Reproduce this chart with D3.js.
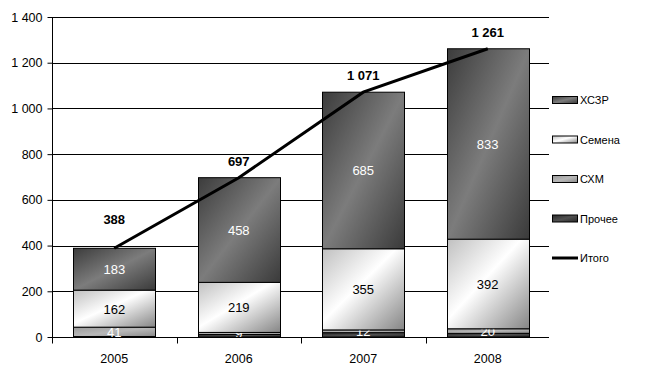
<!DOCTYPE html>
<html><head><meta charset="utf-8">
<script src="https://cdn.jsdelivr.net/npm/d3@7"></script>
<style>body{margin:0;background:#fff}svg{display:block;font-family:"Liberation Sans",Arial,sans-serif}</style>
</head><body><svg id="c" width="663" height="376"></svg>
<script>
const years = ["2005","2006","2007","2008"];
const prochee = [2, 11, 19, 16];
const skhm = [41, 9, 12, 20];
const semena = [162, 219, 355, 392];
const khszr = [183, 458, 685, 833];
const totals = [388, 697, 1071, 1261];
const yTicks = [0,200,400,600,800,1000,1200,1400];
const seriesNames = ["Прочее","СХМ","Семена","ХСЗР"];
const legendNames = ["ХСЗР","Семена","СХМ","Прочее","Итого"];

const svg = d3.select("#c");
const m = {l:52, r:113, t:17, b:39};
const W = 663, H = 376;
const x = d3.scaleBand().domain(years).range([m.l, W-m.r]).paddingInner(0.339).paddingOuter(0.17);
const xc = d3.scaleBand().domain(years).range([m.l, W-m.r]);
const y = d3.scaleLinear().domain([0,1400]).range([H-m.b, m.t]);

const defs = svg.append("defs");
function grad(id, stops){
  const g = defs.append("linearGradient").attr("id",id).attr("x1","0").attr("y1","0").attr("x2","1").attr("y2","1");
  stops.forEach(s=>g.append("stop").attr("offset",s[0]).attr("stop-color",s[1]));
}
grad("gKh", [[0,"#3c3c3c"],[0.5,"#7c7c7c"],[1,"#3a3a3a"]]);
grad("gSe", [[0,"#c0c0c0"],[0.45,"#ffffff"],[1,"#858585"]]);
grad("gSk", [[0,"#9a9a9a"],[0.5,"#b8b8b8"],[1,"#8a8a8a"]]);
grad("gPr", [[0,"#2a2a2a"],[0.5,"#505050"],[1,"#2a2a2a"]]);
const fills = {"Прочее":"url(#gPr)","СХМ":"url(#gSk)","Семена":"url(#gSe)","ХСЗР":"url(#gKh)"};
const labelCol = {"Прочее":null,"СХМ":"#fff","Семена":"#000","ХСЗР":"#fff"};

// gridlines
svg.append("g").selectAll("line").data(yTicks.filter(d=>d>0)).join("line")
  .attr("x1",m.l).attr("x2",W-m.r-1).attr("y1",d=>Math.round(y(d))+0.5).attr("y2",d=>Math.round(y(d))+0.5)
  .attr("stroke","#000").attr("stroke-width",1);

// y axis
const yAx = svg.append("g").attr("transform",`translate(${m.l+0.5},0)`)
  .call(d3.axisLeft(y).tickValues(yTicks).tickSize(5).tickPadding(5)
    .tickFormat(d=>d3.format(",")(d).replace(/,/g," ")));
yAx.select(".domain").attr("d",`M0,${y(1400)}V${y(0)}`);
yAx.selectAll("text").attr("font-size",12.5).attr("fill","#000").attr("font-family","Liberation Sans, Arial");

// stacked data
const rows = years.map((yr,i)=>({year:yr,"Прочее":prochee[i],"СХМ":skhm[i],"Семена":semena[i],"ХСЗР":khszr[i]}));
const stack = d3.stack().keys(seriesNames)(rows);
const gBars = svg.append("g");
stack.forEach(layer=>{
  const key = layer.key;
  gBars.append("g").selectAll("rect").data(layer).join("rect")
    .attr("x",d=>Math.round(x(d.data.year))+0.5).attr("width",Math.round(x.bandwidth()))
    .attr("y",d=>y(d[1])).attr("height",d=>y(d[0])-y(d[1]))
    .attr("fill",fills[key]).attr("stroke","#000").attr("stroke-width",1);
  if(labelCol[key]){
    gBars.append("g").selectAll("text").data(layer).join("text")
      .attr("x",d=>x(d.data.year)+x.bandwidth()/2)
      .attr("y",d=>(y(d[0])+y(d[1]))/2+5)
      .attr("text-anchor","middle").attr("font-size",13).attr("fill",labelCol[key])
      .text(d=>d[1]-d[0]);
  }
});

// x axis
const xAx = svg.append("g").attr("transform",`translate(0,${y(0)+0.5})`);
xAx.append("line").attr("x1",m.l).attr("x2",W-m.r-1).attr("stroke","#000");
xAx.selectAll(".tk").data(d3.range(0,years.length)).join("line")
  .attr("x1",i=>Math.round(m.l+i*xc.bandwidth())+0.5).attr("x2",i=>Math.round(m.l+i*xc.bandwidth())+0.5)
  .attr("y1",0).attr("y2",6).attr("stroke","#000");
xAx.selectAll("text").data(years).join("text")
  .attr("x",d=>xc(d)+xc.bandwidth()/2).attr("y",25).attr("text-anchor","middle")
  .attr("font-size",12.5).text(d=>d);

// total line
const line = d3.line().x((d,i)=>xc(years[i])+xc.bandwidth()/2).y(d=>y(d));
svg.append("path").attr("d",line(totals)).attr("fill","none").attr("stroke","#000").attr("stroke-width",3);
svg.append("g").selectAll("text").data(totals).join("text")
  .attr("x",(d,i)=>xc(years[i])+xc.bandwidth()/2).attr("y",(d,i)=>y(d)-(i===0?24:12))
  .attr("text-anchor","middle").attr("font-size",13).attr("font-weight","bold")
  .text(d=>d3.format(",")(d).replace(/,/g," "));

// legend
const lg = svg.append("g");
const lFill = {"ХСЗР":"url(#gKh)","Семена":"url(#gSe)","СХМ":"url(#gSk)","Прочее":"url(#gPr)"};
legendNames.forEach((n,i)=>{
  const ly = 100 + i*39.5;
  if(n==="Итого"){
    lg.append("line").attr("x1",552).attr("x2",578).attr("y1",ly).attr("y2",ly).attr("stroke","#000").attr("stroke-width",3);
  } else {
    lg.append("rect").attr("x",552.5).attr("y",ly-3.5).attr("width",25).attr("height",7)
      .attr("fill",lFill[n]).attr("stroke","#000").attr("stroke-width",1);
  }
  lg.append("text").attr("x",580).attr("y",ly+4).attr("font-size",11).text(n);
});
</script></body></html>
